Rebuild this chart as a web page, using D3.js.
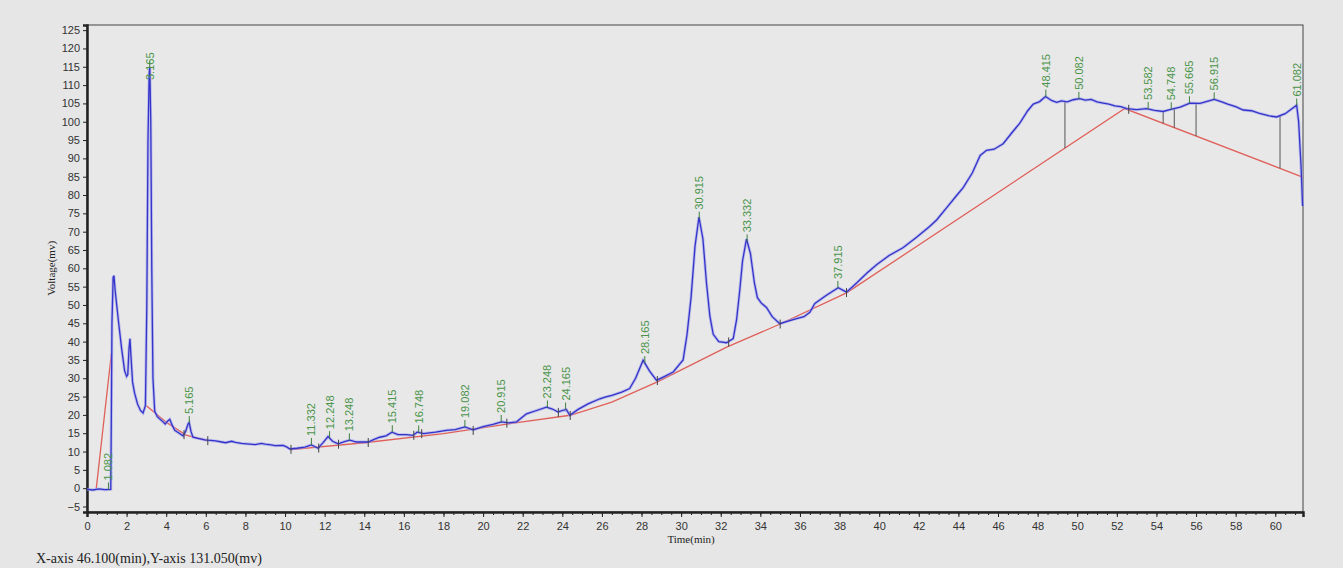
<!DOCTYPE html>
<html>
<head>
<meta charset="utf-8">
<script src="https://cdn.jsdelivr.net/npm/d3@7"></script>
<style>
    body { margin: 0; background: #e6e6e6; }
    .axis text { font-family: "Liberation Sans", Arial, sans-serif; font-size: 11px; fill: #333; }
    .axis path, .axis line { stroke: #222; }
    .peak-label { font-family: "Liberation Sans", Arial, sans-serif; font-size: 11px; fill: #4a944a; }
    .serif { font-family: "Liberation Serif", "Times New Roman", serif; fill: #222; }
</style>
</head>
<body>
<div id="chart"></div>
<script>

// signal trace [time (min), voltage (mv)]
const signal = [
    [0,-0.3],[0.3,-0.5],[0.6,-0.2],[0.9,-0.4],[1.2,-0.3],[1.23,20],[1.26,45],[1.32,57.5],[1.36,58],[1.42,54],
    [1.5,50],[1.6,45],[1.75,38],[1.9,32],[2.0,30.5],[2.06,31],[2.12,38],[2.17,40.8],[2.22,36],[2.3,29],
    [2.4,26],[2.55,23],[2.7,21.2],[2.83,20.5],[2.95,22.5],[3.02,50],[3.08,95],[3.14,113],[3.17,115],[3.22,100],
    [3.27,60],[3.33,30],[3.42,21],[3.55,19.5],[3.76,18.5],[3.95,17.5],[4.05,18.2],[4.18,18.8],[4.3,17.2],[4.43,15.8],
    [4.6,15.2],[4.85,14.3],[4.98,15.5],[5.1,17.5],[5.16,17.9],[5.25,15.5],[5.35,13.9],[5.6,13.6],[5.94,13.2],[6.1,13.1],
    [6.5,12.9],[6.8,12.6],[7,12.4],[7.3,12.8],[7.5,12.5],[7.8,12.2],[8.05,12.1],[8.5,11.9],[8.8,12.2],[9,12],
    [9.3,11.8],[9.5,11.6],[9.9,11.7],[10.1,11.2],[10.24,10.7],[10.6,10.9],[11,11.2],[11.33,11.8],[11.67,10.9],[11.9,12.3],
    [12.17,14.1],[12.4,12.8],[12.68,12.1],[13,12.7],[13.27,13.1],[13.6,12.6],[14.2,12.6],[14.5,13.3],[14.78,13.9],[15.1,14.3],
    [15.4,15.3],[15.7,14.6],[16.1,14.6],[16.46,14.4],[16.67,15.3],[17,14.9],[17.6,15.3],[18.15,15.8],[18.6,16],[19.08,16.7],
    [19.5,15.9],[20,16.8],[20.5,17.4],[20.93,18.1],[21.3,17.8],[21.69,18.1],[22.19,20.3],[22.7,21.2],[23.2,22.1],[23.5,21.6],
    [23.79,20.8],[24.0,21.2],[24.2,21.5],[24.38,19.9],[24.8,21.5],[25.3,23],[25.9,24.4],[26.2,24.9],[26.5,25.3],[27,26.2],
    [27.4,27.2],[27.7,30],[28.08,34.9],[28.4,32],[28.76,29.4],[29.2,30.6],[29.6,31.7],[30.1,35],[30.3,42],[30.5,52],
    [30.7,66],[30.9,74],[31.1,68],[31.28,56],[31.45,47],[31.62,42],[31.9,40],[32.29,39.7],[32.63,40.8],[32.8,46],
    [32.96,54],[33.1,62],[33.3,68],[33.5,64],[33.7,56],[33.85,52],[34.05,50.5],[34.31,49.3],[34.6,46.8],[34.98,44.9],
    [35.4,45.6],[35.83,46.3],[36.2,46.8],[36.5,48],[36.75,50.4],[37.3,52.5],[37.93,54.7],[38.35,53.5],[38.9,56.2],[39.4,58.8],
    [39.87,61],[40.5,63.5],[41.2,65.6],[41.89,68.5],[42.5,71.2],[42.9,73.2],[43.4,76.5],[43.9,79.8],[44.24,82],[44.7,86],
    [45.1,90.8],[45.42,92.2],[45.8,92.5],[46.26,94],[46.7,97],[47.1,99.6],[47.5,103],[47.78,104.8],[48.1,105.5],[48.4,106.9],
    [48.7,105.8],[48.96,105.3],[49.2,105.7],[49.5,105.4],[49.8,106],[50.13,106.3],[50.4,105.9],[50.7,106.1],[51.0,105.4],[51.31,105.1],
    [51.6,104.8],[51.9,104.3],[52.2,104.1],[52.49,103.6],[53,103.3],[53.5,103.6],[53.9,103.1],[54.34,102.8],[54.68,103.3],[55.2,104],
    [55.69,105.1],[56.2,105],[56.6,105.6],[56.92,106.1],[57.3,105.4],[57.6,104.8],[58.0,104.1],[58.38,103.2],[58.8,103],[59.2,102.3],
    [59.7,101.6],[60.07,101.3],[60.5,102.2],[61.08,104.5],[61.18,100],[61.3,88],[61.38,77]
];

// baseline segments (red)
const baselineA = [[0.47,0],[1.23,36.7]];
const baselineB = [[3.0,22.5],[4.0,18],[5.0,14.5],[6.1,13]];
const baselineC = [[10.3,10.5],[14,12.4],[18,14.9],[21.2,17.5],[24.4,19.9],[26.5,23.5],[28.8,29],[32.3,38.5],[35,44.8],[38.35,53.3],[52.4,103.6],[61.38,84.9]];

// peak retention times
const peakTimes = [1.082, 3.165, 5.165, 11.332, 12.248, 13.248, 15.415, 16.748, 19.082, 20.915, 23.248, 24.165,
    28.165, 30.915, 33.332, 37.915, 48.415, 50.082, 53.582, 54.748, 55.665, 56.915, 61.082];

// integration marks and drop lines
const markTimes = [4.9, 6.1, 10.3, 11.7, 12.7, 14.2, 16.5, 16.9, 19.5, 21.2, 23.8, 24.4, 28.8, 32.4, 35.0, 38.35, 52.6];
const dropTimes = [49.38, 54.34, 54.9, 56.0, 60.24];

const xTicks = d3.range(0, 61, 2);
const yTicks = d3.range(-5, 126, 5);

class Chromatogram {

    constructor(parentElement) {
        this.parentElement = parentElement;
        this.initVis();
    }

    initVis() {
        let vis = this;

        vis.margin = {top: 25, right: 40, bottom: 56, left: 87};
        vis.width = 1343 - vis.margin.left - vis.margin.right;
        vis.height = 568 - vis.margin.top - vis.margin.bottom;

        vis.root = d3.select("#" + vis.parentElement).append("svg")
            .attr("width", 1343)
            .attr("height", 568);

        vis.svg = vis.root.append("g")
            .attr("transform", `translate(${vis.margin.left},${vis.margin.top})`);

        vis.x = d3.scaleLinear().domain([0, 61.4]).range([0, vis.width]);
        vis.y = d3.scaleLinear().domain([-6.5, 126.4]).range([vis.height, 0]);

        vis.wrangleData();
    }

    wrangleData() {
        let vis = this;
        let bis = d3.bisector(d => d[0]).left;
        vis.interp = function (arr, t) {
            let i = Math.max(1, Math.min(arr.length - 1, bis(arr, t)));
            let a = arr[i - 1], b = arr[i];
            return a[1] + (b[1] - a[1]) * (t - a[0]) / (b[0] - a[0]);
        };
        vis.updateVis();
    }

    updateVis() {
        let vis = this;

        // frame
        vis.svg.append("rect")
            .attr("width", vis.width).attr("height", vis.height)
            .attr("fill", "#e8e8e8").attr("stroke", "#444").attr("stroke-width", 1);

        // minor x ticks
        vis.svg.append("g")
            .attr("class", "axis")
            .attr("transform", `translate(0,${vis.height})`)
            .call(d3.axisBottom(vis.x).tickValues(d3.range(0, 61.4, 0.5)).tickSize(3).tickFormat(""))
            .call(g => g.select(".domain").remove());

        vis.xAxis = vis.svg.append("g")
            .attr("class", "axis")
            .attr("transform", `translate(0,${vis.height})`)
            .call(d3.axisBottom(vis.x).tickValues(xTicks).tickSize(5).tickPadding(5));
        vis.xAxis.select(".domain").attr("stroke-width", 2.5);

        vis.yAxis = vis.svg.append("g")
            .attr("class", "axis")
            .call(d3.axisLeft(vis.y).tickValues(yTicks).tickSize(4).tickPadding(3));
        vis.yAxis.select(".domain").attr("stroke-width", 2.5);

        let line = d3.line().x(d => vis.x(d[0])).y(d => vis.y(d[1]));

        // baseline
        [baselineA, baselineB, baselineC].forEach(seg => {
            vis.svg.append("path").datum(seg)
                .attr("d", line)
                .attr("fill", "none").attr("stroke", "#e0605a").attr("stroke-width", 1.3);
        });

        // drop lines
        vis.svg.selectAll(".drop").data(dropTimes).enter().append("line")
            .attr("class", "drop")
            .attr("x1", d => vis.x(d)).attr("x2", d => vis.x(d))
            .attr("y1", d => vis.y(vis.interp(signal, d)))
            .attr("y2", d => vis.y(vis.interp(baselineC, d)))
            .attr("stroke", "#555").attr("stroke-width", 1);

        // signal
        vis.svg.append("path").datum(signal)
            .attr("d", line)
            .attr("fill", "none").attr("stroke", "#9c9cf0").attr("stroke-width", 3).attr("opacity", 0.6);
        vis.svg.append("path").datum(signal)
            .attr("d", line)
            .attr("fill", "none").attr("stroke", "#3434c8").attr("stroke-width", 1.3);

        // integration marks
        vis.svg.selectAll(".mark").data(markTimes).enter().append("line")
            .attr("class", "mark")
            .attr("x1", d => vis.x(d)).attr("x2", d => vis.x(d))
            .attr("y1", d => vis.y(vis.interp(signal, d)) - 4)
            .attr("y2", d => vis.y(vis.interp(signal, d)) + 5)
            .attr("stroke", "#444").attr("stroke-width", 1);

        // peak markers + labels
        let peaks = vis.svg.selectAll(".peak").data(peakTimes).enter().append("g")
            .attr("class", "peak")
            .attr("transform", d => `translate(${vis.x(d)},${vis.y(vis.interp(signal, d))})`);

        peaks.append("line")
            .attr("y1", 0).attr("y2", -7)
            .attr("stroke", "#3f7f3f").attr("stroke-width", 1);

        peaks.append("text")
            .attr("class", "peak-label")
            .attr("transform", d => d === 3.165 ? "translate(4,12) rotate(-90)" : "translate(4,-9) rotate(-90)")
            .attr("text-anchor", "start")
            .text(d => d.toFixed(3));

        // titles
        vis.svg.append("text")
            .attr("class", "serif")
            .attr("x", vis.x(30.5)).attr("y", vis.height + 31)
            .attr("text-anchor", "middle").attr("font-size", 11)
            .text("Time(min)");

        vis.svg.append("text")
            .attr("class", "serif")
            .attr("transform", `translate(-32,${vis.y(60)}) rotate(-90)`)
            .attr("text-anchor", "middle").attr("font-size", 11)
            .text("Voltage(mv)");

        vis.root.append("text")
            .attr("class", "serif")
            .attr("x", 36).attr("y", 563)
            .attr("font-size", 14)
            .text("X-axis 46.100(min),Y-axis 131.050(mv)");
    }
}

new Chromatogram("chart");
</script>
</body>
</html>
